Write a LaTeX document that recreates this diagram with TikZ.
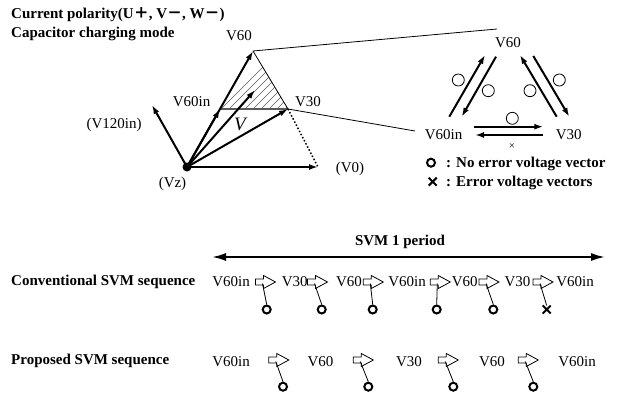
\documentclass[tikz,border=0pt]{standalone}
\usepackage{fontspec}
\setmainfont{Liberation Serif}
\newfontfamily\cjk{Noto Sans CJK JP}
\usepackage{tikz}
\usetikzlibrary{
    arrows.meta,
    positioning,
    calc,
    shapes.misc
}
\tikzset{
  vec/.style     = {-{Latex[length=9pt,width=6pt]}, line width=2pt},
  pairarr/.style = {-{Latex[length=9pt,width=6pt]}, line width=2pt},
  thinline/.style= {line width=0.8pt},
  lbl/.style     = {anchor=base, inner sep=0pt, font=\fontsize{15}{18}\selectfont},
  bold/.style    = {anchor=base west, inner sep=0pt, font=\fontsize{15}{18}\selectfont\bfseries},
  okmark/.style  = {draw, circle, line width=2pt, minimum size=8pt, inner sep=0pt},
  okthin/.style  = {draw, circle, line width=0.8pt, minimum size=12pt, inner sep=0pt},
  ngmark/.style  = {draw, cross out, line width=2pt, minimum size=6pt, inner sep=0pt},
  seqarr/.pic    = {
    \draw[line width=0.8pt, fill=white] (-10,-3) -- (-2,-3) -- (-2,-6.5) -- (10,0)
      -- (-2,6.5) -- (-2,3) -- (-10,3) -- cycle;
    \coordinate (-tail) at (-3,1.5);
  }
}
\definecolor{HatchGray}{RGB}{90,90,90}

\begin{document}
\begin{tikzpicture}[x=1pt, y=-1pt]
\useasboundingbox (0,0) rectangle (621,396);

% title
\node[bold] (title1) at (11,19) {Current polarity(U{\cjk ＋}, V{\cjk －}, W{\cjk －})};
\node[bold] (title2) at (11,37.3) {Capacitor charging mode};

% vector diagram
\coordinate (Vz) at (187,167);
\coordinate (V60) at (253,51);
\coordinate (V30) at (288,109);
\coordinate (V60in) at ($(Vz)!0.5!(V60)$);
\coordinate (Vref) at (255,90);
\coordinate (V0) at (318,167);
\coordinate (V120in) at (152,105);

\begin{scope}
  \clip (V60in) -- (V60) -- (V30) -- cycle;
  \foreach \k in {0,...,14}
    \draw[HatchGray, line width=0.6pt] (200+8*\k,130) -- ++(90,-90);
\end{scope}
\draw[HatchGray, line width=1.2pt] (V60in) -- (V30);
\draw[thinline] (V60) -- (V30);
\draw[line width=1.5pt, dotted] (V30) -- (V0);

\draw[vec] (Vz) -- (V60);
\draw[vec] (Vz) -- (V60in);
\draw[vec] (Vz) -- (V30);
\draw[vec] (Vz) -- (Vref);
\draw[vec] (Vz) -- (V0);
\draw[vec] (Vz) -- (V120in);
\fill (Vz) circle (4.5);

\node[lbl] (lV60) at (239,40.5) {V60};
\node[lbl] (lV60in) at (191.5,106.5) {V60in};
\node[lbl] (lV30) at (308,106.5) {V30};
\node[anchor=base, inner sep=0pt, font=\fontsize{19}{22}\selectfont\itshape] (lV) at (240,130) {V};
\node[lbl] (lV120in) at (114,128.5) {(V120in)};
\node[lbl] (lVz) at (172.5,187.5) {(Vz)};
\node[lbl] (lV0) at (350,172.5) {(V0)};

% transitions
\node[lbl] (rV60) at (508,48) {V60};
\node[lbl] (rV60in) at (443.5,139) {V60in};
\node[lbl] (rV30) at (568.7,139) {V30};
\coordinate (zoomtop) at (497,29);
\coordinate (zoombot) at (415,131);
\draw[thinline] (V60) -- (zoomtop);
\draw[thinline] (V30) -- (zoombot);

\coordinate (la1) at (449.3,116.7); \coordinate (la2) at (485,55);
\coordinate (lb1) at (496,56.7);    \coordinate (lb2) at (461.7,116.7);
\coordinate (ra1) at (556.7,116.7); \coordinate (ra2) at (520,55);
\coordinate (rb1) at (533.3,56);    \coordinate (rb2) at (569.3,116.7);
\coordinate (ha1) at (474,126.7);   \coordinate (ha2) at (543.3,126.7);
\coordinate (hb1) at (543.3,135);   \coordinate (hb2) at (475,135);
\draw[pairarr] (la1) -- (la2);
\draw[pairarr] (lb1) -- (lb2);
\draw[pairarr] (ra1) -- (ra2);
\draw[pairarr] (rb1) -- (rb2);
\draw[pairarr] (ha1) -- (ha2);
\draw[pairarr] (hb1) -- (hb2);

\node[okthin] (t1) at (458.3,80) {};
\node[okthin] (t2) at (488.3,90.7) {};
\node[okthin] (t3) at (530,90.7) {};
\node[okthin] (t4) at (559.3,80) {};
\node[okthin] (t5) at (512.3,118.3) {};
\node[inner sep=0pt, font=\fontsize{11}{12}\selectfont] (t6) at (512,146.7) {×};

% legend
\node[okmark] (leg1) at (431,162.7) {};
\node[ngmark] (leg2) at (432.7,181.7) {};
\node[bold] (legt1) at (446,167) {: No error voltage vector};
\node[bold] (legt2) at (446,186.5) {: Error voltage vectors};

% SVM period
\coordinate (pl) at (212,257);
\coordinate (pr) at (605,257);
\draw[{Latex[length=14pt,width=8pt]}-{Latex[length=14pt,width=8pt]}, line width=2pt] (pl) -- (pr);
\node[anchor=base, inner sep=0pt, font=\fontsize{15}{18}\selectfont\bfseries] (period) at (400,245) {SVM 1 period};

% conventional sequence
\node[bold] (conv) at (11,285.7) {Conventional SVM sequence};
\foreach \t/\x [count=\i] in {V60in/231, V30/294.7, V60/349, V60in/407, V60/464.7, V30/517.5, V60in/575}
  \node[lbl] (cv\i) at (\x,286.5) {\t};
\foreach \x [count=\i] in {265.5, 317.5, 373.3, 440.3, 489, 543}
  \pic (ca\i) at (\x,282) {seqarr};
\foreach \x [count=\i] in {266.7, 321.7, 372.7, 436.7, 493.3}
  \node[okmark] (cm\i) at (\x,309.5) {};
\node[ngmark] (cm6) at (546.7,309.5) {};
\foreach \i in {1,...,6}
  \draw[thinline] (ca\i-tail) -- (cm\i.north);

% proposed sequence
\node[bold] (prop) at (11,364) {Proposed SVM sequence};
\foreach \t/\x [count=\i] in {V60in/231, V60/320.5, V30/409, V60/492, V60in/577}
  \node[lbl] (pv\i) at (\x,366) {\t};
\foreach \x [count=\i] in {278.8, 363.3, 448.3, 528.3}
  \pic (pa\i) at (\x,360) {seqarr};
\foreach \x [count=\i] in {283, 368.3, 453.3, 533.3}
  \node[okmark] (pm\i) at (\x,386.7) {};
\foreach \i in {1,...,4}
  \draw[thinline] (pa\i-tail) -- (pm\i.north);
\end{tikzpicture}
\end{document}
